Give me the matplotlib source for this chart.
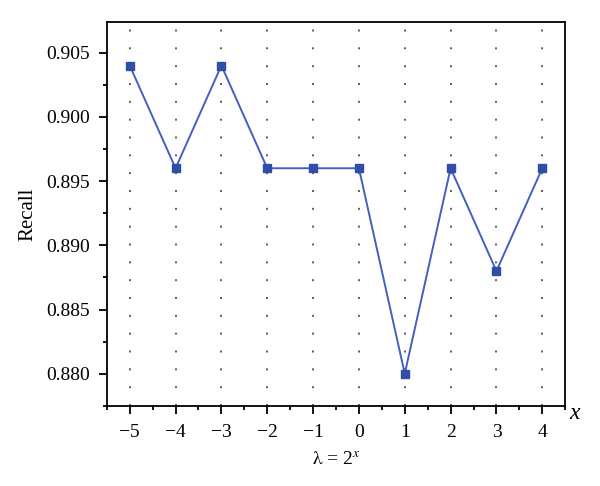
import matplotlib
matplotlib.use('Agg')
import matplotlib.pyplot as plt
from matplotlib.ticker import MultipleLocator, FormatStrFormatter

# data
x_vals = [-5, -4, -3, -2, -1, 0, 1, 2, 3, 4]
recall = [0.904, 0.896, 0.904, 0.896, 0.896, 0.896, 0.880, 0.896, 0.888, 0.896]

plt.rcParams['font.family'] = ['Liberation Serif', 'DejaVu Serif']
plt.rcParams['mathtext.fontset'] = 'stix'

fig = plt.figure(figsize=(6, 4.86), dpi=100)
ax = fig.add_axes([0.178, 0.165, 0.764, 0.79])

# vertical dotted guides at each x
for xv in x_vals:
    ax.axvline(xv, color='#444444', ls=(0, (1.2, 9.5)), lw=1.2, zorder=1)

ax.plot(x_vals, recall, color='#4360c0', lw=1.4, marker='s', markersize=5.8,
        markerfacecolor='#2f4fa6', markeredgecolor='#2f4fa6', zorder=3)

ax.set_xlim(-5.5, 4.5)
ax.set_ylim(0.8775, 0.9074)
ax.set_xticks(x_vals)
ax.set_xticklabels(['\u2212' + str(-v) if v < 0 else str(v) for v in x_vals])
ax.xaxis.set_minor_locator(MultipleLocator(0.5))
ax.yaxis.set_major_locator(MultipleLocator(0.005))
ax.yaxis.set_minor_locator(MultipleLocator(0.0025))
ax.yaxis.set_major_formatter(FormatStrFormatter('%.3f'))

ax.tick_params(which='major', direction='out', length=5.8, width=1.3, labelsize=14)
ax.tick_params(which='minor', direction='out', length=2.8, width=1.3)
ax.tick_params(axis='y', which='major', pad=6.5)
ax.tick_params(axis='x', which='major', pad=7.5)
for s in ax.spines.values():
    s.set_linewidth(1.3)

ax.set_ylabel('Recall', fontsize=15, labelpad=6)
ax.set_xlabel(r'$\mathrm{\lambda}$ = 2$^{x}$', fontsize=14, labelpad=7)
ax.text(1.008, -0.02, 'x', transform=ax.transAxes, fontsize=17, style='italic',
        ha='left', va='center')

fig.savefig('out.png', dpi=100)
